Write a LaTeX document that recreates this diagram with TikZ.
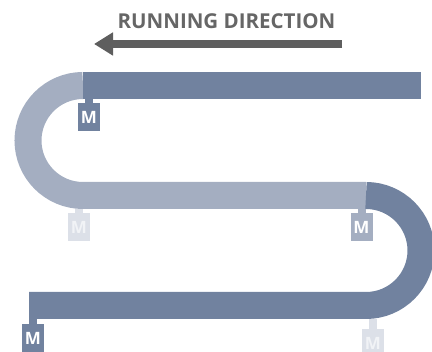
\documentclass[tikz,border=0pt]{standalone}
\usepackage{fontspec}
\setsansfont{Open Sans}
\usepackage{tikz}
\usetikzlibrary{positioning, arrows.meta}
\definecolor{slate}{HTML}{71829F}
\definecolor{haze}{HTML}{A4AEC1}
\definecolor{mist}{HTML}{DCE0E8}
\definecolor{dim}{HTML}{666666}
\definecolor{shaft}{HTML}{5E5E5E}

\begin{document}
\begin{tikzpicture}[
  x=1pt, y=1pt,
  blt/.style={line width=27pt, line cap=butt},
  mtr/.style={rectangle, inner sep=0pt, minimum width=22pt,
              minimum height=28pt, text=white,
              font=\sffamily\bfseries\fontsize{17}{17}\selectfont},
  stm/.style={rectangle, inner sep=0pt, minimum width=8pt},
  hd/.style={font=\sffamily\bfseries\fontsize{20.5}{20.5}\selectfont, text=dim},
  arr/.style={-{Triangle[length=19pt, width=22pt]}, line width=8pt, draw=shaft}
]
\useasboundingbox (0,0) rectangle (432,352);

% --- heading and running direction ---
\node[hd] at (226.5,330.5) (hdr) {RUNNING DIRECTION};
\coordinate (dirR) at (342,308);
\coordinate (dirL) at (94,308);
\draw[arr] (dirR) -- (dirL);

% --- belt: upper run, left bend, middle run ---
\draw[blt, haze]  (83,266.5) arc[start angle=90, end angle=270, radius=55pt]
                  -- (366,156.5);
\draw[blt, slate] (83,266.5) -- (421,266.5);

% --- belt: right bend and lower run ---
\draw[blt, slate] (366,156.5) arc[start angle=90, end angle=-90, radius=55pt]
                  -- (29,46.5);

% --- drive motors (solid: current, pale: previous) ---
\node[mtr, fill=slate] at (89,235)   (mA) {M};
\node[stm, fill=slate, minimum height=4pt, above=0pt of mA] (sA) {};

\node[mtr, fill=mist, text=white!60!mist] at (79,125) (mB) {M};
\node[stm, fill=mist, minimum height=4pt, above=0pt of mB] (sB) {};

\node[mtr, fill=haze] at (361.5,125) (mC) {M};
\node[stm, fill=haze, minimum height=4pt, above=0pt of mC] (sC) {};

\node[mtr, fill=slate] at (33,14)    (mD) {M};
\node[stm, fill=slate, minimum height=5pt, above=0pt of mD] (sD) {};

\node[mtr, fill=mist, text=white!60!mist] at (373,9) (mE) {M};
\node[stm, fill=mist, minimum height=10pt, above=0pt of mE] (sE) {};
\end{tikzpicture}
\end{document}
